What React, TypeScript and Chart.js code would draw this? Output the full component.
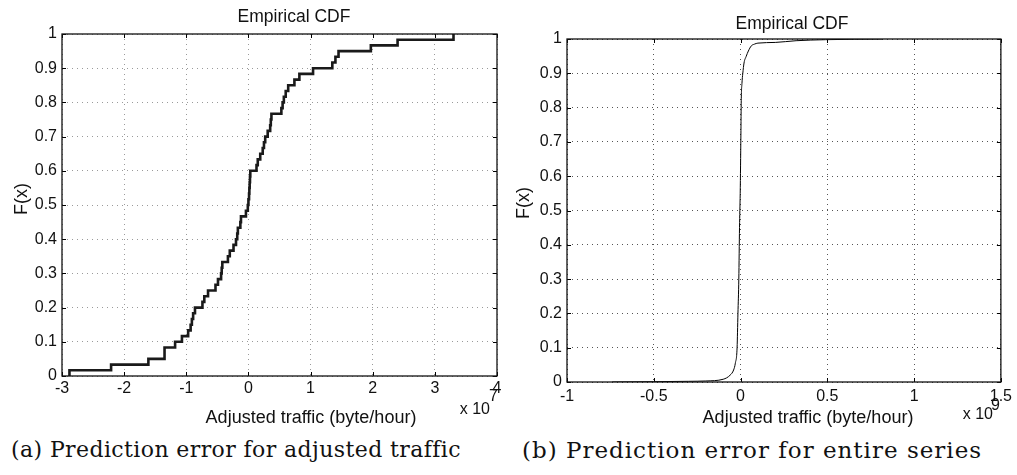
import React, { useEffect, useRef } from 'react';
import { Chart, registerables } from 'chart.js';

Chart.register(...registerables);

// ---------- data ----------
const yTickValues = [0, 0.1, 0.2, 0.3, 0.4, 0.5, 0.6, 0.7, 0.8, 0.9, 1];

// (a) adjusted traffic prediction error, x in units of 1e7 byte/hour
const adjustedX = [
  -2.88, -2.88, -2.21, -1.61, -1.35, -1.18, -1.07, -0.97, -0.93, -0.91, -0.89, -0.86,
  -0.74, -0.71, -0.65, -0.53, -0.49, -0.44, -0.43, -0.42, -0.33, -0.3, -0.24, -0.2,
  -0.18, -0.17, -0.13, -0.12, -0.04, -0.01, 0.0, 0.01, 0.015, 0.02, 0.025, 0.03,
  0.13, 0.15, 0.19, 0.23, 0.25, 0.27, 0.31, 0.35, 0.36, 0.37, 0.53, 0.55, 0.57,
  0.6, 0.64, 0.74, 0.82, 1.04, 1.35, 1.4, 1.45, 1.97, 2.4, 3.3,
];
const adjustedF = [
  0, 0.0167, 0.0333, 0.05, 0.0833, 0.1, 0.1167, 0.1333, 0.15, 0.1667, 0.1833, 0.2,
  0.2167, 0.2333, 0.25, 0.2667, 0.2833, 0.3, 0.3167, 0.3333, 0.35, 0.3667, 0.3833, 0.4,
  0.4167, 0.4333, 0.45, 0.4667, 0.4833, 0.5, 0.5167, 0.5333, 0.55, 0.5667, 0.5833, 0.6,
  0.6167, 0.6333, 0.65, 0.6667, 0.6833, 0.7, 0.7167, 0.7333, 0.75, 0.7667, 0.7833, 0.8, 0.8167,
  0.8333, 0.85, 0.8667, 0.8833, 0.9, 0.9167, 0.9333, 0.95, 0.9667, 0.9833, 1.0,
];

// (b) entire series prediction error, x in units of 1e9 byte/hour
const entireX = [
  -0.74, -0.5, -0.3, -0.2, -0.1, -0.06, -0.04, -0.03, -0.02, -0.015, -0.01, -0.006,
  -0.002, 0, 0.002, 0.004, 0.008, 0.013, 0.02, 0.033, 0.045, 0.062, 0.08, 0.1, 0.2,
  0.32, 0.49, 0.82,
];
const entireF = [
  0, 0.001, 0.002, 0.003, 0.008, 0.02, 0.035, 0.055, 0.1, 0.2, 0.3, 0.45,
  0.55, 0.63, 0.72, 0.82, 0.87, 0.9, 0.93, 0.95, 0.965, 0.98, 0.985, 0.988, 0.99,
  0.995, 0.998, 1.0,
];

const titleText = 'Empirical CDF';
const xLabelText = 'Adjusted traffic (byte/hour)';
const yLabelText = 'F(x)';
const captionA = '(a) Prediction error for adjusted traffic';
const captionB = '(b) Prediction error for entire series';

const SANS = '"Liberation Sans", Arial, Helvetica, sans-serif';

type PanelCfg = {
  xs: number[];
  ys: number[];
  xMin: number;
  xMax: number;
  xStep: number;
  exponent: string;
  stepped: boolean;
  lineWidth: number;
  lineColor: string;
  gridColor: string;
  width: number;
  height: number;
  area: { left: number; right: number; top: number; bottom: number };
  xTickPad: number;
  titlePos: [number, number];
  yLabelPos: [number, number];
  xLabelPos: [number, number];
  x10Right: number;
  x10Y: number;
  expX: number;
  expY: number;
};

function fmt(v: number) {
  const r = Math.round(v * 10) / 10;
  return String(r);
}

function Panel({ cfg }: { cfg: PanelCfg }) {
  const ref = useRef<HTMLCanvasElement | null>(null);
  useEffect(() => {
    const canvas = ref.current;
    if (!canvas) return;
    const a = cfg.area;
    const textPlugin = {
      id: 'matlabText',
      afterDraw(chart: any) {
        const ctx = chart.ctx;
        const ca = chart.chartArea;
        ctx.save();
        // tick marks inward on all sides
        ctx.strokeStyle = '#000';
        ctx.lineWidth = 1;
        const xs = chart.scales.x;
        const ysc = chart.scales.y;
        ctx.beginPath();
        xs.ticks.forEach((t: any) => {
          const px = Math.round(xs.getPixelForValue(t.value)) + 0.5;
          ctx.moveTo(px, ca.bottom);
          ctx.lineTo(px, ca.bottom - 4);
          ctx.moveTo(px, ca.top);
          ctx.lineTo(px, ca.top + 4);
        });
        ysc.ticks.forEach((t: any) => {
          const py = Math.round(ysc.getPixelForValue(t.value)) + 0.5;
          ctx.moveTo(ca.left, py);
          ctx.lineTo(ca.left + 4, py);
          ctx.moveTo(ca.right, py);
          ctx.lineTo(ca.right - 4, py);
        });
        ctx.stroke();
        // box
        ctx.strokeStyle = '#111';
        ctx.lineWidth = 1.3;
        ctx.strokeRect(ca.left, ca.top, ca.right - ca.left, ca.bottom - ca.top);
        // texts
        ctx.fillStyle = '#111';
        ctx.font = `17.5px ${SANS}`;
        ctx.textAlign = 'center';
        ctx.textBaseline = 'middle';
        ctx.fillText(titleText, cfg.titlePos[0], cfg.titlePos[1]);
        ctx.font = `18px ${SANS}`;
        ctx.fillText(xLabelText, cfg.xLabelPos[0], cfg.xLabelPos[1]);
        ctx.save();
        ctx.translate(cfg.yLabelPos[0], cfg.yLabelPos[1]);
        ctx.rotate(-Math.PI / 2);
        ctx.fillText(yLabelText, 0, 0);
        ctx.restore();
        ctx.font = `16px ${SANS}`;
        ctx.textAlign = 'right';
        ctx.fillText('x 10', cfg.x10Right, cfg.x10Y);
        ctx.textAlign = 'left';
        ctx.fillText(cfg.exponent, cfg.expX, cfg.expY);
        ctx.restore();
      },
    };

    const chart = new Chart(canvas, {
      type: 'line',
      data: {
        datasets: [
          {
            data: cfg.xs.map((x, i) => ({ x, y: cfg.ys[i] })),
            borderColor: cfg.lineColor,
            borderWidth: cfg.lineWidth,
            pointRadius: 0,
            fill: false,
            stepped: cfg.stepped ? 'before' : false,
            cubicInterpolationMode: cfg.stepped ? 'default' : 'monotone',
            borderJoinStyle: 'miter',
            borderCapStyle: 'butt',
          } as any,
        ],
      },
      plugins: [textPlugin],
      options: {
        responsive: false,
        animation: false,
        devicePixelRatio: 1,
        layout: {
          padding: { left: 0, top: a.top, right: cfg.width - a.right, bottom: 0 },
        },
        plugins: {
          legend: { display: false },
          title: { display: false },
          tooltip: { enabled: false },
        },
        scales: {
          x: {
            type: 'linear',
            min: cfg.xMin,
            max: cfg.xMax,
            afterFit: (s: any) => {
              s.height = cfg.height - a.bottom;
            },
            afterBuildTicks: (s: any) => {
              const t = [];
              for (let v = cfg.xMin; v <= cfg.xMax + 1e-9; v += cfg.xStep) {
                t.push({ value: Math.round(v * 10) / 10 });
              }
              s.ticks = t;
            },
            ticks: {
              color: '#111',
              font: { family: SANS, size: 16 },
              padding: cfg.xTickPad,
              maxRotation: 0,
              autoSkip: false,
              callback: (v: any) => fmt(Number(v)),
            },
            grid: { color: cfg.gridColor, lineWidth: 1, drawTicks: false },
            border: { display: false, dash: [1, 4] },
          },
          y: {
            type: 'linear',
            min: 0,
            max: 1,
            afterFit: (s: any) => {
              s.width = a.left;
            },
            afterBuildTicks: (s: any) => {
              s.ticks = yTickValues.map((v) => ({ value: v }));
            },
            ticks: {
              color: '#111',
              font: { family: SANS, size: 16 },
              padding: 5,
              autoSkip: false,
              callback: (v: any) => fmt(Number(v)),
            },
            grid: { color: cfg.gridColor, lineWidth: 1, drawTicks: false },
            border: { display: false, dash: [1, 4] },
          },
        },
      } as any,
    });
    return () => chart.destroy();
  }, [cfg]);
  return (
    <canvas
      ref={ref}
      width={cfg.width}
      height={cfg.height}
      style={{ width: cfg.width, height: cfg.height, display: 'block' }}
    />
  );
}

const leftCfg: PanelCfg = {
  xs: adjustedX,
  ys: adjustedF,
  xMin: -3,
  xMax: 4,
  xStep: 1,
  exponent: '7',
  stepped: true,
  lineWidth: 2.6,
  lineColor: '#1a1a1a',
  gridColor: '#9a9a9a',
  width: 508,
  height: 430,
  area: { left: 62, right: 497, top: 34, bottom: 376 },
  xTickPad: 3,
  titlePos: [294, 17],
  yLabelPos: [22, 199],
  xLabelPos: [311, 418],
  x10Right: 490,
  x10Y: 410,
  expX: 489,
  expY: 397,
};

const rightCfg: PanelCfg = {
  xs: entireX,
  ys: entireF,
  xMin: -1,
  xMax: 1.5,
  xStep: 0.5,
  exponent: '9',
  stepped: false,
  lineWidth: 1,
  lineColor: '#000',
  gridColor: '#555',
  width: 509,
  height: 430,
  area: { left: 59, right: 493, top: 39, bottom: 382 },
  xTickPad: 5,
  titlePos: [284, 24],
  yLabelPos: [16, 203],
  xLabelPos: [300, 418],
  x10Right: 485,
  x10Y: 415,
  expX: 483,
  expY: 406,
};

export default function App() {
  const captionStyle: React.CSSProperties = {
    position: 'absolute',
    top: 437,
    fontFamily: '"DejaVu Serif", "Liberation Serif", serif',
    lineHeight: '26px',
    color: '#111',
    whiteSpace: 'nowrap',
    transform: 'translateX(-50%)',
  };
  return (
    <div
      style={{
        position: 'fixed',
        left: 0,
        top: 0,
        width: 1017,
        height: 475,
        background: '#fff',
        overflow: 'hidden',
      }}
    >
      <div style={{ position: 'absolute', left: 0, top: 0 }}>
        <Panel cfg={leftCfg} />
      </div>
      <div style={{ position: 'absolute', left: 508, top: 0 }}>
        <Panel cfg={rightCfg} />
      </div>
      <div style={{ ...captionStyle, left: 236, fontSize: 22, letterSpacing: 0.4 }}>{captionA}</div>
      <div style={{ ...captionStyle, left: 752, fontSize: 23, letterSpacing: 1 }}>{captionB}</div>
    </div>
  );
}
